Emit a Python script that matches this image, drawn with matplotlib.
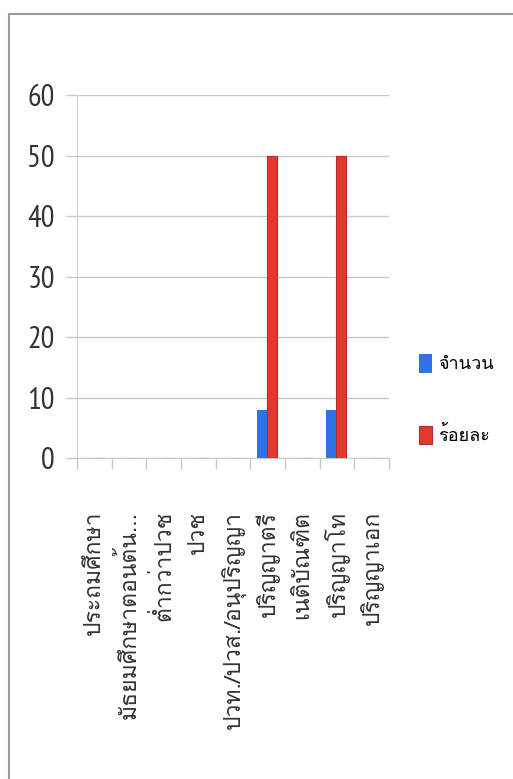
import matplotlib
matplotlib.use("Agg")
import matplotlib.pyplot as plt
import matplotlib.patches as patches
import numpy as np

# data
categories = ["ประถมศึกษา", "มัธยมศึกษาตอนต้น...", "ต่ำกว่าปวช", "ปวช",
              "ปวท./ปวส./อนุปริญญา", "ปริญญาตรี", "เนติบัณฑิต", "ปริญญาโท", "ปริญญาเอก"]
count_vals = [0, 0, 0, 0, 0, 8, 0, 8, 0]
percent_vals = [0, 0, 0, 0, 0, 50, 0, 50, 0]
series_names = ["จำนวน", "ร้อยละ"]
y_ticks = [0, 10, 20, 30, 40, 50, 60]

thai = ["Loma", "Noto Sans Thai Looped", "DejaVu Sans"]
nums = ["PT Sans Narrow", "Carlito", "DejaVu Sans"]

fig = plt.figure(figsize=(5.13, 7.79), dpi=100)
ax = fig.add_axes([0.150, 0.412, 0.608, 0.466])

x = np.arange(len(categories))
w = 0.29
ax.bar(x - 0.16, count_vals, w, color="#2f72e4", label=series_names[0], zorder=3)
ax.bar(x + 0.13, percent_vals, w, color="#e2392f", edgecolor="#b52c2c",
       linewidth=0.8, label=series_names[1], zorder=3)

ax.set_xlim(-0.5, len(categories) - 0.5)
ax.set_ylim(0, 60)
ax.set_yticks(y_ticks)
ax.set_yticklabels([str(v) for v in y_ticks], family=nums, fontsize=22, color="#333333")
ax.tick_params(axis="y", length=8, width=1, color="#c8c8c8", pad=8)
ax.grid(axis="y", color="#c8c8c8", linewidth=1, zorder=0)

# category labels at centres, tick marks at category boundaries
ax.set_xticks(x)
ax.set_xticklabels(categories, rotation=90, family=thai, fontsize=16.5, color="#333333")
ax.tick_params(axis="x", which="major", length=0, pad=38)
ax.set_xticks(np.arange(len(categories) + 1) - 0.5, minor=True)
ax.tick_params(axis="x", which="minor", length=8, width=1, color="#c8c8c8")

for s in ["top", "right"]:
    ax.spines[s].set_visible(False)
ax.spines["left"].set_color("#d0d0d0")
ax.spines["bottom"].set_color("#c8c8c8")

fig.legend(loc="center left", bbox_to_anchor=(0.785, 0.487), frameon=False,
           prop={"family": thai, "size": 13}, handlelength=0.75, handleheight=1.2,
           handletextpad=0.3, labelspacing=2.9)

# outer chart border
fig.patches.append(patches.Rectangle((0.0175, -0.1), 1.1, 1.082, transform=fig.transFigure,
                                     fill=False, edgecolor="#9a9a9a", linewidth=1.5))

plt.savefig("out.png", dpi=100)
